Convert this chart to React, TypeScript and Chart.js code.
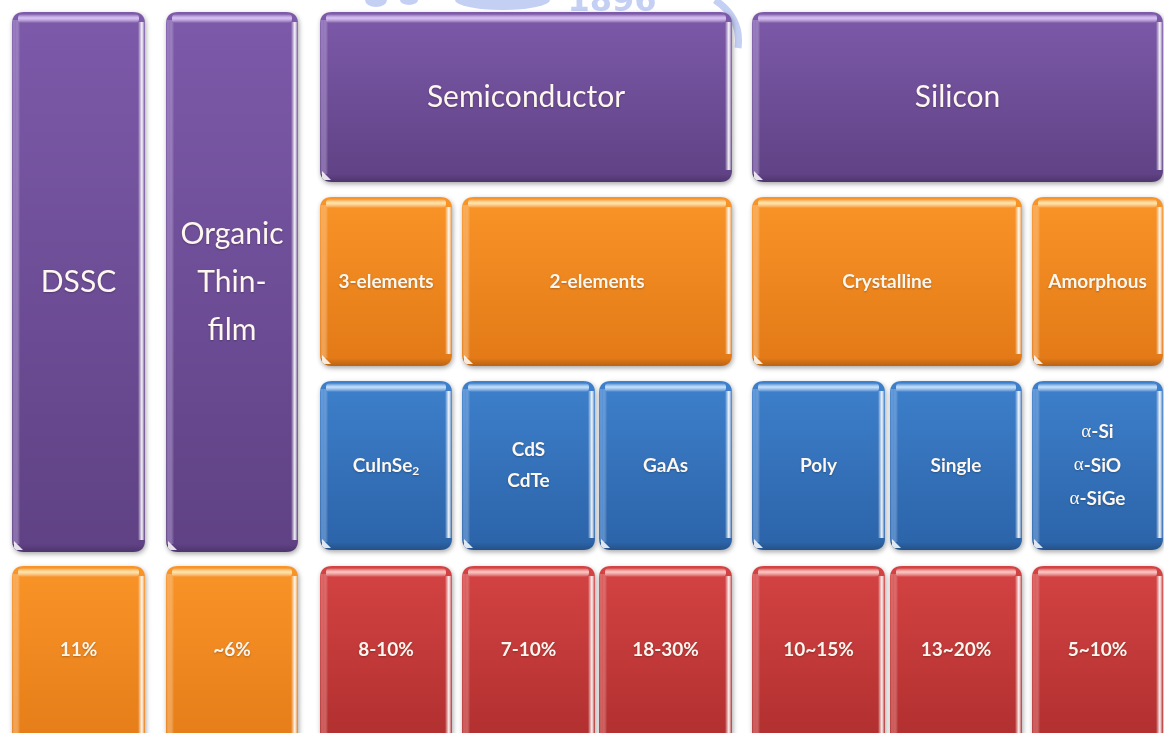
import React, { useEffect, useRef } from "react";
import { Chart, registerables } from "chart.js";

Chart.register(...registerables);

// ---- Data (labels shown in the diagram) ----
const technologies = ["DSSC", "Organic\nThin-\nfilm", "Semiconductor", "Silicon"];
const subTypes = ["3-elements", "2-elements", "Crystalline", "Amorphous"];
const materials = ["CuInSe₂", "CdS\nCdTe", "GaAs", "Poly", "Single", "α-Si\nα-SiO\nα-SiGe"];
const efficiencies = ["11%", "~6%", "8-10%", "7-10%", "18-30%", "10~15%", "13~20%", "5~10%"];

// ---- Layout grid (in scale units) ----
const colEdges: [number, number][] = [
  [12, 145], [166, 298], [320, 452], [462, 595], [599, 732], [752, 885], [890, 1022], [1032, 1163],
];
const rowEdges: [number, number][] = [
  [12, 182], [197, 366], [381, 550], [566, 770],
];

type Cell = { label: string; c0: number; c1: number; r0: number; r1: number; color: string; big: boolean; yEnd?: number };

const cells: Cell[] = [
  { label: technologies[0], c0: 0, c1: 0, r0: 0, r1: 2, color: "purple", big: true, yEnd: 552 },
  { label: technologies[1], c0: 1, c1: 1, r0: 0, r1: 2, color: "purple", big: true, yEnd: 552 },
  { label: technologies[2], c0: 2, c1: 4, r0: 0, r1: 0, color: "purple", big: true },
  { label: technologies[3], c0: 5, c1: 7, r0: 0, r1: 0, color: "purple", big: true },
  { label: subTypes[0], c0: 2, c1: 2, r0: 1, r1: 1, color: "orange", big: false },
  { label: subTypes[1], c0: 3, c1: 4, r0: 1, r1: 1, color: "orange", big: false },
  { label: subTypes[2], c0: 5, c1: 6, r0: 1, r1: 1, color: "orange", big: false },
  { label: subTypes[3], c0: 7, c1: 7, r0: 1, r1: 1, color: "orange", big: false },
  ...materials.map((m, i) => ({ label: m, c0: i + 2, c1: i + 2, r0: 2, r1: 2, color: "blue", big: false })),
  ...efficiencies.map((e, i) => ({ label: e, c0: i, c1: i, r0: 3, r1: 3, color: i < 2 ? "orange" : "red", big: false })),
];

const palette: Record<string, { top: string; bottom: string; hi: string; edge: string }> = {
  purple: { top: "#7d5aaa", bottom: "#5f4184", hi: "#d9befa", edge: "#9a7cc6" },
  orange: { top: "#f99428", bottom: "#e27916", hi: "#ffe7a6", edge: "#fbb060" },
  blue: { top: "#3e80cc", bottom: "#2b63a8", hi: "#c4e2ff", edge: "#5f9ae0" },
  red: { top: "#d44343", bottom: "#ab2c2c", hi: "#ffc4c0", edge: "#e06464" },
};

function roundRectPath(ctx: CanvasRenderingContext2D, x: number, y: number, w: number, h: number, r: number) {
  ctx.beginPath();
  ctx.moveTo(x + r, y);
  ctx.lineTo(x + w - r, y);
  ctx.quadraticCurveTo(x + w, y, x + w, y + r);
  ctx.lineTo(x + w, y + h - r);
  ctx.quadraticCurveTo(x + w, y + h, x + w - r, y + h);
  ctx.lineTo(x + r, y + h);
  ctx.quadraticCurveTo(x, y + h, x, y + h - r);
  ctx.lineTo(x, y + r);
  ctx.quadraticCurveTo(x, y, x + r, y);
  ctx.closePath();
}

function drawBox(ctx: CanvasRenderingContext2D, x0: number, y0: number, x1: number, y1: number, colorKey: string) {
  const p = palette[colorKey];
  const w = x1 - x0;
  const h = y1 - y0;
  const r = 12;
  ctx.save();
  ctx.shadowColor = "rgba(0,0,0,0.35)";
  ctx.shadowBlur = 5;
  ctx.shadowOffsetX = 1;
  ctx.shadowOffsetY = 2;
  const g = ctx.createLinearGradient(0, y0, 0, y1);
  g.addColorStop(0, p.top);
  g.addColorStop(1, p.bottom);
  ctx.fillStyle = g;
  roundRectPath(ctx, x0, y0, w, h, r);
  ctx.fill();
  ctx.restore();

  ctx.save();
  roundRectPath(ctx, x0, y0, w, h, r);
  ctx.clip();
  const lg = ctx.createLinearGradient(x0, 0, x0 + 8, 0);
  lg.addColorStop(0, "rgba(255,255,255,0)");
  lg.addColorStop(0.4, p.edge);
  lg.addColorStop(1, "rgba(255,255,255,0)");
  ctx.globalAlpha = 0.7;
  ctx.fillStyle = lg;
  ctx.fillRect(x0, y0 + 8, 8, h - 16);
  const rg = ctx.createLinearGradient(x1 - 7, 0, x1, 0);
  rg.addColorStop(0, "rgba(255,255,255,0)");
  rg.addColorStop(0.55, "rgba(255,255,255,0.95)");
  rg.addColorStop(1, "rgba(255,255,255,0)");
  ctx.globalAlpha = 1;
  ctx.fillStyle = rg;
  ctx.fillRect(x1 - 7, y0 + 10, 7, h - 22);
  const tg = ctx.createLinearGradient(0, y0 + 2, 0, y0 + 11);
  tg.addColorStop(0, "rgba(255,255,255,0)");
  tg.addColorStop(0.45, p.hi);
  tg.addColorStop(1, "rgba(255,255,255,0)");
  ctx.fillStyle = tg;
  roundRectPath(ctx, x0 + 6, y0 + 2, w - 12, 9, 4);
  ctx.fill();
  const bg = ctx.createLinearGradient(0, y1 - 8, 0, y1);
  bg.addColorStop(0, "rgba(0,0,0,0)");
  bg.addColorStop(1, "rgba(0,0,0,0.18)");
  ctx.fillStyle = bg;
  ctx.fillRect(x0, y1 - 8, w, 8);
  ctx.fillStyle = "rgba(255,255,255,0.85)";
  ctx.beginPath();
  ctx.moveTo(x0 + 2, y1 - 11);
  ctx.lineTo(x0 + 2, y1 - 2);
  ctx.lineTo(x0 + 11, y1 - 2);
  ctx.closePath();
  ctx.fill();
  ctx.restore();
}

function drawLine(ctx: CanvasRenderingContext2D, line: string, cx: number, cy: number, size: number, bold: boolean) {
  const base = `${bold ? "bold " : ""}${size}px Lato, "Open Sans", sans-serif`;
  const greek = `${size}px "Liberation Serif", "DejaVu Serif", serif`;
  const sub = `${bold ? "bold " : ""}${Math.round(size * 0.62)}px Lato, sans-serif`;
  const runs: { t: string; font: string; dy: number }[] = [];
  for (const ch of line) {
    let font = base;
    let t = ch;
    let dy = 0;
    if (ch === "α") font = greek;
    else if (ch === "₂") { font = sub; t = "2"; dy = size * 0.28; }
    const last = runs[runs.length - 1];
    if (last && last.font === font && last.dy === dy) last.t += t;
    else runs.push({ t, font, dy });
  }
  let total = 0;
  for (const r of runs) { ctx.font = r.font; total += ctx.measureText(r.t).width; }
  let x = cx - total / 2;
  ctx.textAlign = "left";
  ctx.textBaseline = "middle";
  for (const r of runs) {
    ctx.font = r.font;
    ctx.fillText(r.t, x, cy + r.dy);
    x += ctx.measureText(r.t).width;
  }
}

const diagramPlugin = {
  id: "pvDiagram",
  beforeDatasetsDraw(chart: any) {
    const ctx: CanvasRenderingContext2D = chart.ctx;
    const xs = chart.scales.x;
    const ys = chart.scales.y;
    const area = chart.chartArea;
    // faint watermark, mostly cut off at the top edge
    ctx.save();
    ctx.fillStyle = "rgba(165,182,238,0.65)";
    ctx.textAlign = "center";
    ctx.textBaseline = "alphabetic";
    ctx.font = 'bold 32px "DejaVu Sans", sans-serif';
    ctx.fillText("1896", xs.getPixelForValue(612), ys.getPixelForValue(11));
    const blobs: [number, number, number, number][] = [[365, 0, 22, 7], [400, 0, 18, 5], [455, 0, 95, 10]];
    blobs.forEach(([bx, by, bw, bh]) => {
      ctx.beginPath();
      ctx.ellipse(xs.getPixelForValue(bx + bw / 2), ys.getPixelForValue(by), bw / 2, bh, 0, 0, Math.PI);
      ctx.fill();
    });
    ctx.lineWidth = 7;
    ctx.strokeStyle = "rgba(165,182,238,0.65)";
    ctx.beginPath();
    ctx.moveTo(xs.getPixelForValue(715), ys.getPixelForValue(0));
    ctx.quadraticCurveTo(xs.getPixelForValue(742), ys.getPixelForValue(18), xs.getPixelForValue(738), ys.getPixelForValue(48));
    ctx.stroke();
    ctx.restore();

    for (const c of cells) {
      const x0 = xs.getPixelForValue(colEdges[c.c0][0]);
      const x1 = xs.getPixelForValue(colEdges[c.c1][1]);
      const y0 = ys.getPixelForValue(rowEdges[c.r0][0]);
      const y1 = ys.getPixelForValue(c.yEnd ?? rowEdges[c.r1][1]);
      drawBox(ctx, x0, y0, x1, y1, c.color);
      const cx = (x0 + x1) / 2;
      const cy = (y0 + Math.min(y1, area.bottom)) / 2;
      const lines = c.label.split("\n");
      const size = c.big ? 30 : 19;
      const lh = c.big ? 48 : (lines.length > 2 ? 33.5 : 31);
      ctx.save();
      ctx.fillStyle = "#fdf7ef";
      ctx.shadowColor = "rgba(0,0,0,0.25)";
      ctx.shadowBlur = 2;
      ctx.shadowOffsetY = 1;
      lines.forEach((ln, i) => {
        const ly = cy + (i - (lines.length - 1) / 2) * lh;
        drawLine(ctx, ln, cx, ly, size, !c.big);
      });
      ctx.restore();
    }
  },
};

export default function App() {
  const canvasRef = useRef<HTMLCanvasElement | null>(null);
  useEffect(() => {
    document.body.style.margin = "0";
    document.body.style.background = "#ffffff";
    const canvas = canvasRef.current;
    if (!canvas) return;
    const chart = new Chart(canvas, {
      type: "bar",
      data: { labels: [], datasets: [] },
      options: {
        animation: false,
        responsive: false,
        layout: { padding: 0 },
        plugins: { legend: { display: false }, tooltip: { enabled: false } },
        scales: {
          x: { type: "linear", min: 0, max: 1164, offset: false, display: false },
          y: { type: "linear", min: 0, max: 733, reverse: true, offset: false, display: false },
        },
      },
      plugins: [diagramPlugin],
    });
    return () => chart.destroy();
  }, []);
  return (
    <div style={{ width: 1164, height: 733, background: "#ffffff" }}>
      <canvas ref={canvasRef} width={1164} height={733} style={{ display: "block" }} />
    </div>
  );
}
